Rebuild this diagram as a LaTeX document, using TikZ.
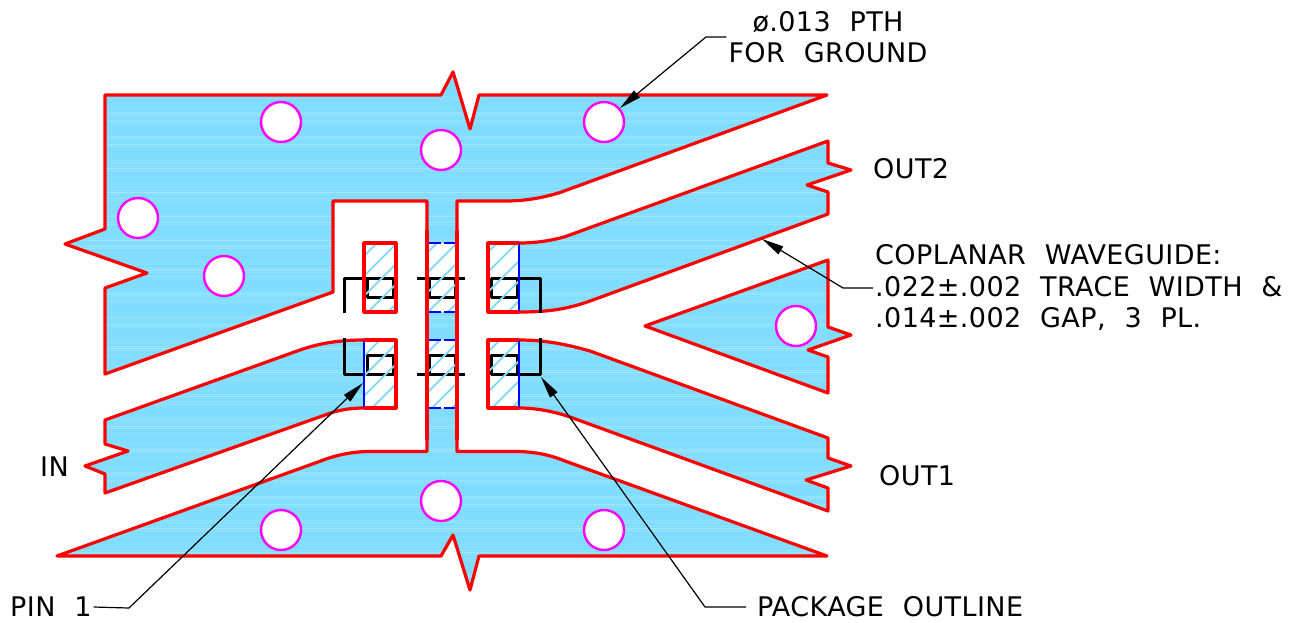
\documentclass[tikz,border=0pt]{standalone}
\usepackage{fontspec}
\setmainfont[LetterSpace=1.5,WordSpace=2.1]{DejaVu Sans}
\usetikzlibrary{arrows.meta}
\definecolor{copper}{HTML}{80DDFF}
\definecolor{streakblue}{HTML}{A8E9FF}
\definecolor{hatchblue}{HTML}{86D9F7}
\definecolor{holepink}{HTML}{FF00FF}
\tikzset{>={Triangle[length=22pt,width=9pt]}}
\tikzset{
  copperedge/.style={draw=red,line width=3.2pt,line join=round},
  copperfill/.style={copperedge,fill=copper,path picture={
    \foreach \y in {96,98,...,592} {
      \pgfmathsetmacro\op{abs(sin(\y*23)*sin(\y*7))^2}
      \draw[streakblue,line width=1pt,opacity=\op] (-200,\y) -- (1500,\y);
    }}},
  viahole/.style={draw=holepink,fill=white,line width=2.4pt},
  padedge/.style={blue,line width=1.8pt},
  outline/.style={black,line width=3pt,line join=round},
  leader/.style={black,line width=1.2pt},
  callout/.style={font=\fontsize{27}{31.5}\selectfont,inner sep=2pt,align=left}
}
\begin{document}
\begin{tikzpicture}[x=1pt,y=-1pt]
\useasboundingbox (0,0) rectangle (1305,622);
\path[copperfill] (105,95) -- (441,95) -- (453,72) -- (470,129) -- (479,95) -- (827,95)
  -- (560,192.5) .. controls (542,198) and (525,201) .. (505,201) -- (457,201) -- (457,451.5)
  -- (515,451.5) .. controls (535,451.5) and (550,455) .. (565,461) -- (827,556)
  -- (479,556) -- (470,590) -- (453,535) -- (441,556) -- (57,556) -- (318,462)
  .. controls (333,456) and (350,451.5) .. (370,451.5) -- (427,451.5) -- (427,201)
  -- (333,201) -- (333,292) -- (105,374) -- (105,288) -- (147,273) -- (65,244) -- (105,229) -- cycle;
\path[copperfill] (105,420) -- (300,350) .. controls (320,343) and (340,340) .. (364,340)
  -- (396,340) -- (396,408) -- (364,408) .. controls (350,408) and (338,410) .. (325,415)
  -- (105,493) -- (105,474) -- (85,466) -- (128,451) -- (105,444) -- cycle;
\path[copperfill] (488,243) -- (519,243) .. controls (535,243) and (550,241) .. (565,236.7)
  -- (828,141) -- (828,163) -- (851,170) -- (807,185) -- (828,192) -- (828,214) -- (590,301)
  .. controls (565,310) and (545,312) .. (519,312) -- (488,312) -- cycle;
\path[copperfill] (488,340) -- (519,340) .. controls (545,340) and (565,344) .. (590,351)
  -- (828,438) -- (828,458) -- (851,466) -- (806,480) -- (828,488) -- (828,511) -- (570,417)
  .. controls (553,411) and (535,408) .. (519,408) -- (488,408) -- cycle;
\path[copperfill] (645,326) -- (828,260) -- (828,327) -- (851,335) -- (808,350) -- (828,357) -- (828,393) -- cycle;
\foreach \x/\y in {281/122,441/150,604/122,138/218,224/276,796/326,441/501,281/530,604/530}
  \draw[viahole] (\x,\y) circle(20);
\foreach \x/\y/\w/\h in {364/243/32/69,427/243/30/69,488/243/31/69,364/340/32/68,427/340/30/68,488/340/31/68}
  \fill[white] (\x,\y) rectangle +(\w,\h);
\foreach \x in {367,429,491} {
  \draw[outline] (\x,278) rectangle +(26,19);
  \draw[outline] (\x,355) rectangle +(26,19);
}
\draw[outline] (344,313) -- (344,278) -- (367,278);
\draw[outline] (344,338) -- (344,374) -- (367,374);
\draw[outline] (417,278) -- (465,278);
\draw[outline] (417,374) -- (465,374);
\draw[outline] (517,278) -- (540,278) -- (540,313);
\draw[outline] (517,374) -- (540,374) -- (540,338);
\foreach \x/\y/\w/\h in {364/243/32/69,427/243/30/69,488/243/31/69,364/340/32/68,427/340/30/68,488/340/31/68} {
  \begin{scope}
  \clip (\x,\y) rectangle +(\w,\h);
  \foreach \c in {600,620,...,940}
    \draw[hatchblue,line width=2pt] (\c-200,200) -- (\c-420,420);
  \end{scope}
}
\draw[padedge] (519,243) -- (519,312);
\draw[padedge] (519,340) -- (519,408);
\draw[padedge] (364,340) -- (364,408);
\foreach \y in {243,312,340,408}
  \draw[padedge,dash pattern=on 14pt off 3pt] (427,\y) -- (457,\y);
\draw[copperedge] (364,243) rectangle (396,312);
\draw[copperedge] (364,340) -- (396,340) -- (396,408) -- (364,408);
\draw[copperedge] (519,243) -- (488,243) -- (488,312) -- (519,312);
\draw[copperedge] (519,340) -- (488,340) -- (488,408) -- (519,408);
\draw[copperedge] (427,230) -- (427,440);
\draw[copperedge] (457,230) -- (457,440);
\node[callout,align=center] (ptlabel) at (828,37) {ø.013 PTH\\FOR GROUND};
\node[callout,anchor=west] (wglabel) at (873,288) {COPLANAR WAVEGUIDE:\\.022±.002 TRACE WIDTH \&\\.014±.002 GAP, 3 PL.};
\node[callout,anchor=west] (pinlabel) at (8,607) {PIN 1};
\node[callout,anchor=west,outer xsep=9pt] (pkglabel) at (746,607) {PACKAGE OUTLINE};
\node[callout,anchor=west] (inlabel) at (38,467) {IN};
\node[callout,anchor=west] (outtwolabel) at (871,169) {OUT2};
\node[callout,anchor=west] (outonelabel) at (877,476) {OUT1};
\coordinate (ptbend) at (706,37);
\coordinate (pttip) at (620,108);
\coordinate (wgbend) at (843,288);
\coordinate (wgtip) at (762,239);
\coordinate (pinbend) at (129,608);
\coordinate (pintip) at (363,383);
\coordinate (pkgbend) at (705,607);
\coordinate (pkgtip) at (541,377);
\draw[leader,->] (ptlabel.west) -- (ptbend) -- (pttip);
\draw[leader,->] (wglabel.west) -- (wgbend) -- (wgtip);
\draw[leader,->] (pinlabel.east) -- (pinbend) -- (pintip);
\draw[leader,->] (pkglabel.west) -- (pkgbend) -- (pkgtip);
\end{tikzpicture}
\end{document}
